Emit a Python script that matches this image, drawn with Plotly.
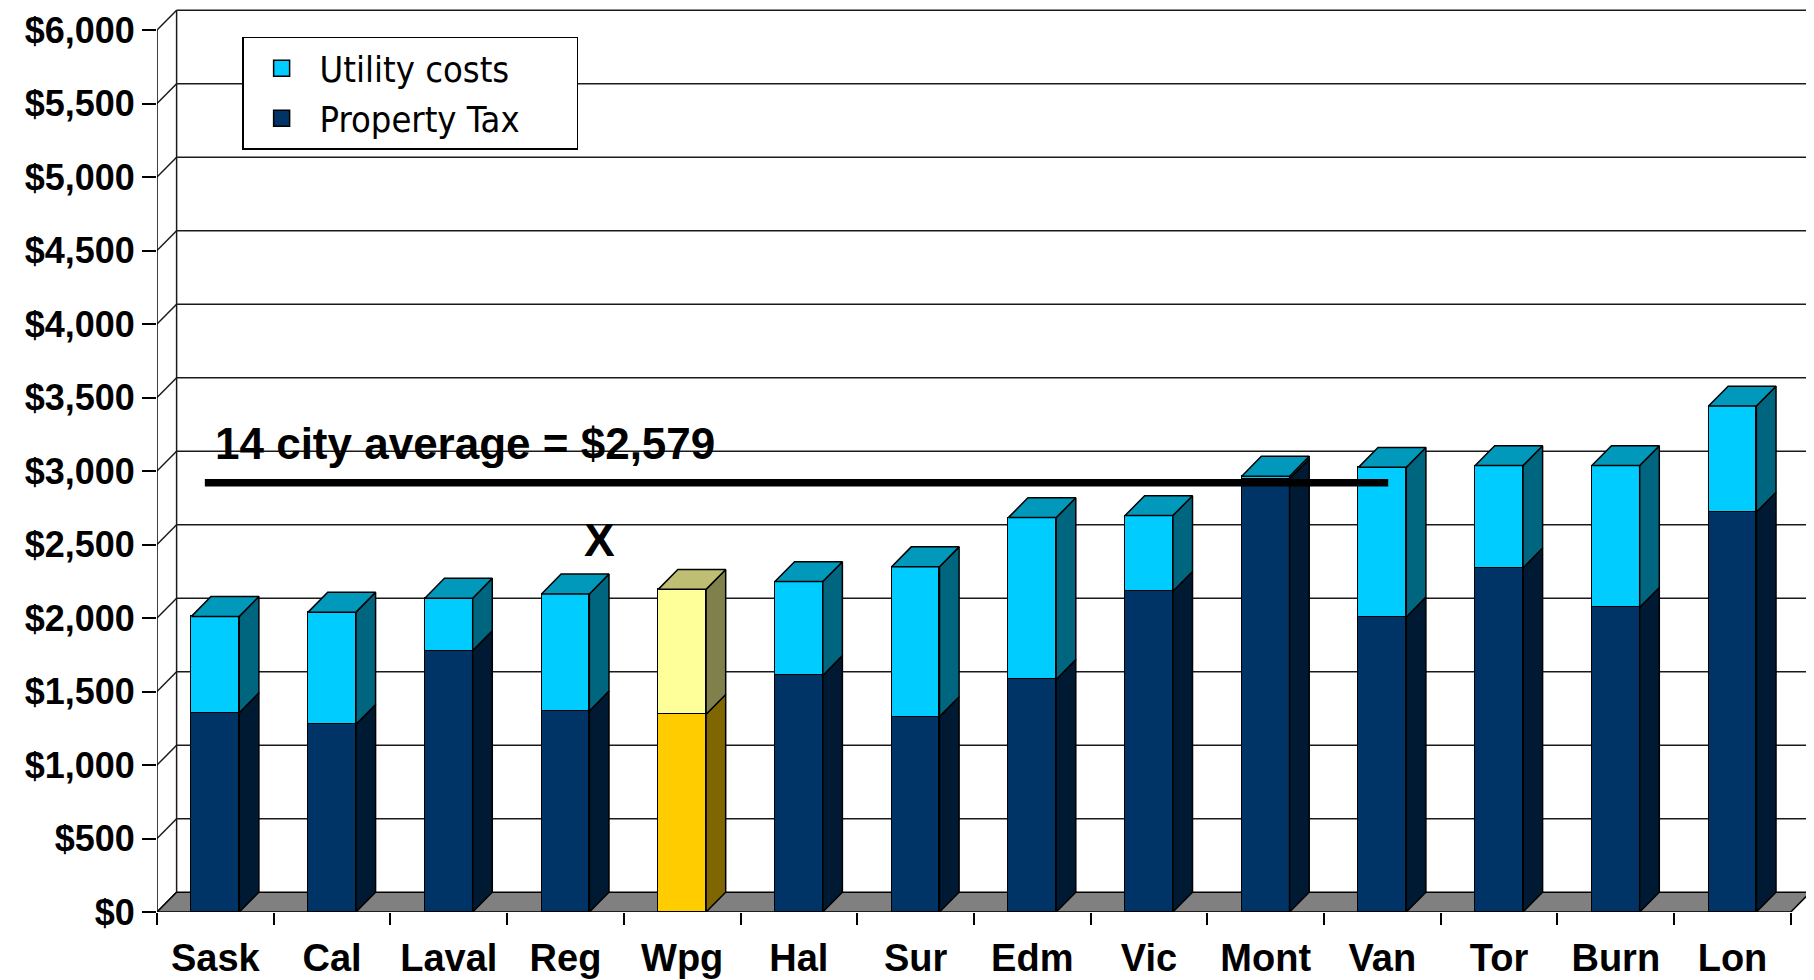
import plotly.graph_objects as go

# ---- data ----
CITIES = ["Sask", "Cal", "Laval", "Reg", "Wpg", "Hal", "Sur",
          "Edm", "Vic", "Mont", "Van", "Tor", "Burn", "Lon"]
PROPERTY_TAX = [1356, 1277, 1778, 1368, 1345, 1609, 1329,
                1582, 2182, 2947, 2007, 2341, 2073, 2721]
UTILITY_COSTS = [655, 763, 357, 796, 850, 639, 1020,
                 1101, 515, 18, 1018, 696, 964, 721]
Y_TICKS = list(range(0, 6001, 500))
Y_LABELS = [f"${v:,}" for v in Y_TICKS]
HIGHLIGHT = "Wpg"
AVG_LABEL = "14 city average = $2,579"
AVG_LINE_LEVEL = 2920          # where the hand-drawn line sits on the chart
MARKED_CITY = "Reg"            # the "X" sits over this bar

# colours: (front, side, top)
NAVY = ("#003366", "#001A33", "#003366")
CYAN = ("#00CCFF", "#006680", "#0099BB")
GOLD = ("#FFCC00", "#806600", "#FFCC00")
LEMON = ("#FFFF99", "#80804D", "#BFBF73")

BAR_W = 0.41            # front face width, in category units
DX, DY = 0.168, 135     # depth offset used for the fake 3D look
X_MAX = len(CITIES) - 0.5
BOLD = dict(family="Liberation Sans, Arial, sans-serif", color="black", weight="bold")

idx = list(range(len(CITIES)))
is_hl = [c == HIGHLIGHT for c in CITIES]

fig = go.Figure()

# side and top faces, grouped by colour (None separates the polygons)
faces = {}


def add_face(color, pts):
    xs, ys = faces.setdefault(color, ([], []))
    for x, y in pts + [pts[0]]:
        xs.append(x)
        ys.append(y)
    xs.append(None)
    ys.append(None)


for i, p, u, hl in zip(idx, PROPERTY_TAX, UTILITY_COSTS, is_hl):
    lo, hi = (GOLD, LEMON) if hl else (NAVY, CYAN)
    xl, xr = i - BAR_W / 2, i + BAR_W / 2
    t = p + u
    add_face(lo[1], [(xr, 0), (xr + DX, DY), (xr + DX, p + DY), (xr, p)])
    add_face(hi[1], [(xr, p), (xr + DX, p + DY), (xr + DX, t + DY), (xr, t)])
    add_face(hi[2], [(xl, t), (xr, t), (xr + DX, t + DY), (xl + DX, t + DY)])

for color, (xs, ys) in faces.items():
    fig.add_trace(go.Scatter(
        x=xs, y=ys, mode="lines", fill="toself", fillcolor=color,
        line=dict(color="black", width=1.5), hoverinfo="skip", showlegend=False,
    ))

# front faces
fig.add_trace(go.Bar(
    x=idx, y=PROPERTY_TAX, width=BAR_W, name="Property Tax", showlegend=False,
    marker=dict(color=[GOLD[0] if h else NAVY[0] for h in is_hl],
                line=dict(color="black", width=1.5)),
))
fig.add_trace(go.Bar(
    x=idx, y=UTILITY_COSTS, width=BAR_W, name="Utility costs", showlegend=False,
    marker=dict(color=[LEMON[0] if h else CYAN[0] for h in is_hl],
                line=dict(color="black", width=1.5)),
))

# legend entries (nbsp padding widens the box like the original)
pad = "\u00a0" * 5
for name, col in [("Utility costs", CYAN[0]), ("Property Tax", NAVY[0])]:
    fig.add_trace(go.Scatter(
        x=[None], y=[None], mode="markers", name=name + pad,
        marker=dict(symbol="square", size=22, color=col,
                    line=dict(color="black", width=1.5)),
    ))

# average line
fig.add_trace(go.Scatter(
    x=[-0.09, 10.05], y=[AVG_LINE_LEVEL, AVG_LINE_LEVEL], mode="lines",
    line=dict(color="black", width=7.5), hoverinfo="skip", showlegend=False,
))

# back wall, floor and the diagonals joining the front axis to the wall
shapes = []
grid = dict(color="#1a1a1a", width=1.5)
for v in Y_TICKS:
    shapes.append(dict(type="line", x0=-0.5, y0=v, x1=-0.5 + DX, y1=v + DY,
                       line=grid, layer="below"))
    if v > 0:
        shapes.append(dict(type="line", x0=-0.5 + DX, y0=v + DY, x1=X_MAX + DX, y1=v + DY,
                           line=grid, layer="below"))
for xw in (-0.5 + DX, X_MAX + DX):
    shapes.append(dict(type="line", x0=xw, y0=DY, x1=xw, y1=Y_TICKS[-1] + DY,
                       line=grid, layer="below"))
shapes.append(dict(
    type="path", layer="below", fillcolor="#808080", line=dict(color="black", width=1.5),
    path=f"M -0.5,0 L {X_MAX},0 L {X_MAX + DX},{DY} L {-0.5 + DX},{DY} Z",
))
shapes.append(dict(type="line", x0=-0.5, y0=0, x1=-0.5, y1=Y_TICKS[-1],
                   line=dict(color="black", width=1.5), layer="below"))

# the page body adds an 8px margin, so the figure is 8px smaller each way
fig.update_layout(
    width=1806, height=972,
    margin=dict(l=149, r=1, t=0, b=68),
    plot_bgcolor="white", paper_bgcolor="white",
    barmode="stack", bargap=0,
    shapes=shapes,
    showlegend=True,
    legend=dict(
        x=0.0514, y=0.968, xanchor="left", yanchor="top",
        traceorder="normal", bgcolor="white",
        bordercolor="black", borderwidth=1.5,
        font=dict(family="Tahoma, DejaVu Sans Condensed, DejaVu Sans, sans-serif",
                  size=36, color="black"),
        itemwidth=66,
    ),
    xaxis=dict(
        range=[-0.5, X_MAX + 0.19], tickmode="array", tickvals=idx, ticktext=CITIES,
        ticks="", showgrid=False, zeroline=False, showline=False, automargin=False,
        tickfont=dict(size=38, **BOLD), ticklabelstandoff=20,
        minor=dict(tickmode="array", tickvals=[i - 0.5 for i in idx] + [X_MAX],
                   ticks="outside", ticklen=12, tickwidth=1.5, tickcolor="black",
                   showgrid=False),
    ),
    yaxis=dict(
        range=[0, 6150], tickmode="array", tickvals=Y_TICKS, ticktext=Y_LABELS,
        ticks="outside", ticklen=14, tickwidth=1.5, tickcolor="black",
        showgrid=False, zeroline=False, showline=False, automargin=False,
        tickfont=dict(size=36, **BOLD),
    ),
    annotations=[
        dict(x=-0.02, y=3189, xref="x", yref="y", text=AVG_LABEL, showarrow=False,
             xanchor="left", yanchor="middle", font=dict(size=44, **BOLD)),
        dict(x=CITIES.index(MARKED_CITY) + 0.29, y=2532, xref="x", yref="y", text="X",
             showarrow=False, xanchor="center", yanchor="middle",
             font=dict(size=46, **BOLD)),
    ],
)

fig.write_html("out.html")
